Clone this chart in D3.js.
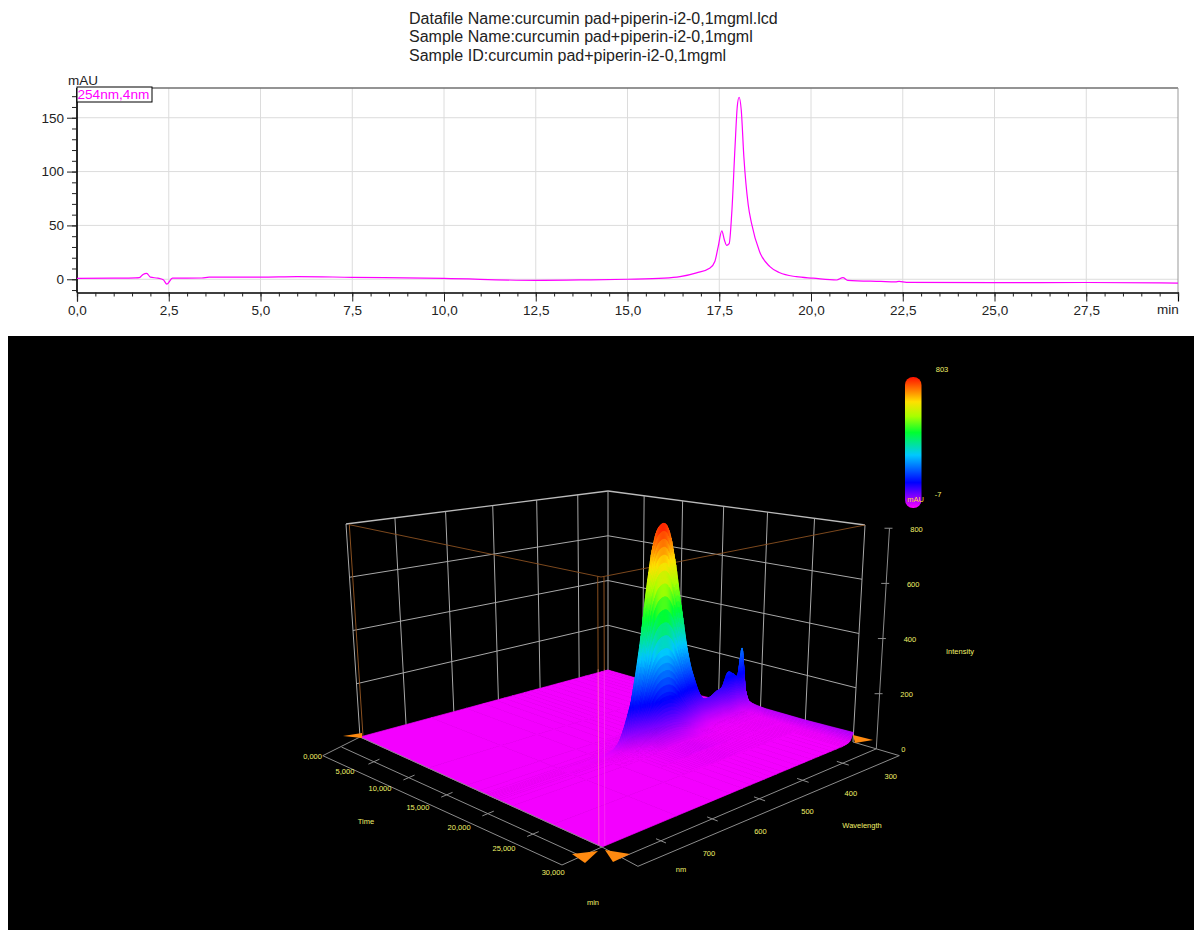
<!DOCTYPE html>
<html><head><meta charset="utf-8">
<script src="https://cdnjs.cloudflare.com/ajax/libs/d3/7.8.5/d3.min.js"></script>
<style>html,body{margin:0;padding:0;background:#fff;overflow:hidden}svg{display:block}text{font-family:"Liberation Sans",Arial,sans-serif}</style>
</head><body><svg id="c" width="1194" height="930"></svg>
<script>
const headerLines=["Datafile Name:curcumin pad+piperin-i2-0,1mgml.lcd","Sample Name:curcumin pad+piperin-i2-0,1mgml","Sample ID:curcumin pad+piperin-i2-0,1mgml"];
const chromTimes=[0,1,1.6,1.7,1.8,1.9,2,2.2,2.35,2.45,2.6,3.4,3.6,5,6,7.5,10,12.5,14,15,16,16.43,16.88,17.25,17.38,17.47,17.57,17.64,17.7,17.77,17.84,17.93,17.99,18.04,18.1,18.17,18.29,18.38,18.6,18.88,19.15,19.6,20.06,20.7,20.87,21,21.9,22.3,22.4,22.6,25,27.5,30];
const chromValues=[0.8,1,1.3,1.5,4.5,5.5,2,1,-0.5,-4.5,1,1.2,2,2,2.5,1.8,0.8,-1,-0.5,0,1,2.4,6,10.5,16.5,30,45,36.5,31.5,33,61,123,160,169,157,114,69,52,25.6,11.7,6,2.4,1,-0.7,1.5,-1,-2,-2.4,-1.9,-2.8,-3.2,-3,-3.6];
const xTicks=[0,2.5,5,7.5,10,12.5,15,17.5,20,22.5,25,27.5];
const yTicks=[0,50,100,150];
const surfTimes=[0,10,15,16.5,17.2,17.5,17.7,17.85,18.05,18.2,18.4,18.7,19,19.5,20.5,25,30];
const surfWaves=[222,231,241,255,269,283,298,317,336,355,373,392,411,425,439,454,468,487,506,534,572,648,790];
const surfRows=[
[0,0,0,0,0,0,0,0,0,0,0,0,0,0,0,0,0,0,0,0,0,0,0],
[2,0,0,0,0,0,0,0,0,0,0,0,0,0,0,0,0,0,0,0,0,0,0],
[10,2,0,0,0,0,0,0,0,0,0,0,0,0,0,0,0,0,0,0,0,0,0],
[25,8,5,4,4,3,2,2,2,4,6,10,14,16,16,15,13,7,3,1,0,0,0],
[30,20,12,13,14,9,9,8,8,14,23,38,54,62,64,61,50,30,14,3,0,0,0],
[35,68,40,43,46,30,30,26,28,49,78,130,184,211,216,205,170,100,46,9,1,0,0],
[35,55,33,35,37,24,24,21,23,40,64,106,150,172,176,167,139,81,37,8,1,0,0],
[40,125,75,80,85,55,55,48,52,90,145,240,340,390,400,380,315,185,85,18,3,0,0],
[60,250,150,160,170,120,110,95,105,180,290,480,680,780,800,760,630,370,170,35,5,0,0],
[55,195,117,125,133,94,86,74,82,140,226,374,530,608,624,593,491,289,133,27,4,0,0],
[48,105,63,67,71,50,46,40,44,76,122,202,286,328,336,319,265,155,71,15,2,0,0],
[40,55,33,35,37,26,24,21,23,40,64,106,150,172,176,167,139,81,37,8,1,0,0],
[36,30,18,19,20,14,13,11,13,22,35,58,82,94,96,91,76,44,20,4,1,0,0],
[33,13,8,8,9,6,6,5,5,9,15,24,34,39,40,38,32,19,9,2,0,0,0],
[30,6,3,3,3,2,2,1,2,3,4,7,10,12,12,11,9,6,3,1,0,0,0],
[30,4,1,0,0,0,0,0,0,0,0,0,0,0,0,0,0,0,0,0,0,0,0],
[35,8,2,0,0,0,0,0,0,0,0,0,0,0,0,0,0,0,0,0,0,0,0]];
const timeAxisTicks=[0,5,10,15,20,25,30];
const waveAxisTicks=[300,400,500,600,700];
const intensityTicks=[0,200,400,600,800];
const colorStops=[-7,60,150,320,460,560,650,720,803];
const colorNames=["#ff00ff","#8a00ff","#0000ff","#00c8ff","#00ff30","#a8ff00","#ffe000","#ff8000","#ff1000"];

const svg=d3.select("#c");
svg.append("rect").attr("width",1194).attr("height",930).attr("fill","#fff");
const hdr=svg.append("g").attr("font-size",16).attr("fill","#222");
headerLines.forEach((s,i)=>hdr.append("text").attr("x",409).attr("y",23.5+i*18.5).text(s));

// ---- chromatogram
const x=d3.scaleLinear().domain([0,30]).range([77,1178]);
const y=d3.scaleLinear().domain([-12.1,177.6]).range([292.3,88]);
const grid=svg.append("g").attr("stroke","#dcdcdc").attr("stroke-width",1);
xTicks.slice(1).forEach(v=>grid.append("line").attr("x1",x(v)).attr("x2",x(v)).attr("y1",88).attr("y2",292));
yTicks.forEach(v=>grid.append("line").attr("x1",77).attr("x2",1178).attr("y1",y(v)).attr("y2",y(v)));
svg.append("line").attr("x1",77).attr("x2",1178).attr("y1",88).attr("y2",88).attr("stroke","#707070").attr("stroke-width",1.6);
svg.append("line").attr("x1",1178).attr("x2",1178).attr("y1",88).attr("y2",292).attr("stroke","#999");
const fmt=v=>d3.format(".1f")(v).replace(".",",");
const ax=svg.append("g").attr("transform","translate(0,292.5)").call(d3.axisBottom(x).tickValues(xTicks).tickFormat(fmt).tickSize(9).tickPadding(4));
const ax2=svg.append("g").attr("transform","translate(0,292.5)").call(d3.axisBottom(x).tickValues(d3.range(0,30.01,0.5)).tickFormat("").tickSize(4));
const ay=svg.append("g").attr("transform","translate(77,0)").call(d3.axisLeft(y).tickValues(yTicks).tickSize(10).tickPadding(3));
const ay2=svg.append("g").attr("transform","translate(77,0)").call(d3.axisLeft(y).tickValues(d3.range(-10,175,10)).tickFormat("").tickSize(5));
[ax,ax2,ay,ay2].forEach(g=>{g.selectAll("path").attr("stroke","#000").attr("stroke-width",1.2);g.selectAll("line").attr("stroke","#222");g.selectAll("text").attr("font-size",13.5).attr("font-family","Liberation Sans").attr("fill","#222");});
ay.select("path").attr("d","M0,88V292.5");ay2.select("path").attr("d","M0,88V292.5");
const line=d3.line().x((d,i)=>x(chromTimes[i])).y(d=>y(d)).curve(d3.curveMonotoneX);
svg.append("path").attr("d",line(chromValues)).attr("fill","none").attr("stroke","#ff00ff").attr("stroke-width",1.2);
svg.append("rect").attr("x",77).attr("y",87).attr("width",75).attr("height",15).attr("fill","#fff").attr("stroke","#000").attr("stroke-width",1);
svg.append("text").attr("x",77.5).attr("y",99).attr("font-size",13.6).attr("fill","#ff00ff").text("254nm,4nm");
svg.append("text").attr("x",68).attr("y",85).attr("font-size",13.5).attr("fill","#222").text("mAU");
svg.append("text").attr("x",1157).attr("y",314).attr("font-size",13.5).attr("fill","#222").text("min");

// ---- 3D panel
svg.append("rect").attr("x",8).attr("y",336).attr("width",1186).attr("height",594).attr("fill","#000");
function homography(p0,p1,p2,p3){
  const dx1=p1[0]-p2[0],dx2=p3[0]-p2[0],sx=p0[0]-p1[0]+p2[0]-p3[0];
  const dy1=p1[1]-p2[1],dy2=p3[1]-p2[1],sy=p0[1]-p1[1]+p2[1]-p3[1];
  const den=dx1*dy2-dx2*dy1,g=(sx*dy2-dx2*sy)/den,h=(dx1*sy-sx*dy1)/den;
  const a=p1[0]-p0[0]+g*p1[0],b=p3[0]-p0[0]+h*p3[0],d=p1[1]-p0[1]+g*p1[1],e=p3[1]-p0[1]+h*p3[1];
  return (u,v)=>{const w=g*u+h*v+1;return [(a*u+b*v+p0[0])/w,(d*u+e*v+p0[1])/w];};
}
const wMin=222,wMax=790;
const floorH=homography([608,670],[853,742],[602,847],[360,737]);
const topH=homography([608,491],[865,525],[601,577],[346,524]);
const uS=d3.scaleLinear().domain([0,30]).range([0,1]);
const vS=d3.scaleLinear().domain([wMin,wMax]).range([0,1]);
const hS=d3.scaleLinear().domain([0,800]).range([0,1]);
const P=(t,w,I=0)=>{const a=floorH(uS(t),vS(w)),b=topH(uS(t),vS(w)),k=hS(I);return [a[0]+(b[0]-a[0])*k,a[1]+(b[1]-a[1])*k];};
const color=d3.scaleLinear().domain(colorStops).range(colorNames).clamp(true);

const g3=svg.append("g");
const seg=(p,q,c,sw)=>g3.append("line").attr("x1",p[0]).attr("y1",p[1]).attr("x2",q[0]).attr("y2",q[1]).attr("stroke",c).attr("stroke-width",sw);
const gridC="#a8a8a8";
// walls
intensityTicks.slice(1).forEach(I=>{const top=I===800;
  seg(P(0,wMax,I),P(0,wMin,I),top?"#bbb":gridC,top?1.3:1);
  seg(P(0,wMin,I),P(30,wMin,I),top?"#bbb":gridC,top?1.3:1);});
[wMin,...waveAxisTicks,wMax].forEach(w=>seg(P(0,w),P(0,w,800),gridC,1));
[5,10,15,20,25,30].forEach(t=>seg(P(t,wMin),P(t,wMin,800),gridC,1));
// cursor frame (behind surface)
const cur="#8a5020";
seg(P(0.5,wMax,800),P(30,wMax,800),cur,0.9);
seg(P(30,wMax,800),P(30,wMin,800),cur,0.9);
seg(P(0.5,wMax,0),P(0.5,wMax,800),cur,1);
seg(P(29.7,wMax,0),P(29.7,wMax,800),cur,1);
seg(P(30,wMax-5,0),P(30,wMax-5,800),cur,1);

// surface
function catmull(a,i,f){const p0=a[Math.max(i-1,0)],p1=a[i],p2=a[Math.min(i+1,a.length-1)],p3=a[Math.min(i+2,a.length-1)];
  const v=0.5*(2*p1+(p2-p0)*f+(2*p0-5*p1+4*p2-p3)*f*f+(3*p1-p0-3*p2+p3)*f*f*f);
  return Math.max(Math.min(v,Math.max(p1,p2)*1.06+1),Math.min(p1,p2)*0.9);}
const gs=g3.append("g");
const cells=[];
for(let i=0;i<surfTimes.length-1;i++){
  for(let j=surfWaves.length-2;j>=0;j--){
    const peak=Math.max(surfRows[i][j],surfRows[i+1][j],surfRows[i][j+1],surfRows[i+1][j+1]);
    const nw=peak>20?8:(peak>1?3:1), nt=peak>20?6:(peak>1?2:1);
    for(let a=0;a<nt;a++){
      for(let b=nw-1;b>=0;b--){
        const val=(ai,bi)=>{const fa=ai/nt,fb=bi/nw;
          const jj=fb>=1?j+1:j,ff=fb>=1?0:fb;
          const r0=catmull(surfRows[i],jj,ff),r1=catmull(surfRows[i+1],jj,ff);return r0+(r1-r0)*fa;};
        const pos=(ai,bi)=>{const t=surfTimes[i]+(surfTimes[i+1]-surfTimes[i])*ai/nt,w=surfWaves[j]+(surfWaves[j+1]-surfWaves[j])*bi/nw;return P(t,w,val(ai,bi));};
        const mean=(val(a,b)+val(a+1,b)+val(a,b+1)+val(a+1,b+1))/4;
        cells.push({pts:[pos(a,b),pos(a+1,b),pos(a+1,b+1),pos(a,b+1)],c:color(mean)});
      }
    }
  }
}
gs.selectAll("polygon").data(cells).join("polygon")
  .attr("points",d=>d.pts.map(p=>p[0].toFixed(2)+","+p[1].toFixed(2)).join(" "))
  .attr("fill",d=>d.c).attr("stroke",d=>d.c).attr("stroke-width",0.7);

// front cursor verticals over surface
seg(P(29.7,wMax,0),P(29.7,wMax,524),"#ffa0a0",0.8).attr("opacity",0.7);
seg(P(30,wMax-5,0),P(30,wMax-5,524),"#ff9ad0",0.6).attr("opacity",0.45);

// floor axes (the axis plate sits slightly below the floor at the far end)
const axC="#8c8c8c";
const A=(t,w)=>{const p=P(t,w),v=vS(w),u=uS(t);return [p[0]+3,p[1]+(v>1?(v-1)*60*(1-u):0)];};
const wIn=830,wOut=864,tIn=32.3,tOut=34.5;
const waveAxis=d3.scaleLinear().domain([300,700]).range([313,716]);
const B=(t,w)=>{const v=vS(w),p=P(30+(t-30)*(1-0.25*v),w);return [p[0],p[1]+3*v];};
seg(A(0,wIn),A(30,wIn),axC,1);seg(A(0,wOut),A(30,wOut),axC,1);
seg(P(0,wMax),A(0,wOut),axC,1);seg(P(30,wMax),A(30,wOut),axC,1);
seg(P(30,wMax),P(0,wMax),axC,1);
seg(B(tIn,wMin),B(tIn,wMax),axC,1);seg(B(tOut,wMin),B(tOut,wMax),axC,1);
seg(P(30,wMin),B(tOut,wMin),axC,1);seg(P(30,wMax),B(tOut,wMax),axC,1);
timeAxisTicks.slice(1,-1).forEach(t=>seg(A(t,wIn-10),A(t,wIn+10),axC,1));
waveAxisTicks.forEach(w=>seg(B(tIn-0.6,waveAxis(w)),B(tIn+0.6,waveAxis(w)),axC,1));
// intensity axis
seg(P(tIn,wMin,0),P(tIn,wMin,800),axC,1);
intensityTicks.slice(1).forEach(I=>{const p=P(tIn,wMin,I);seg([p[0]-5,p[1]],[p[0]+3,p[1]],axC,1);});

// orange markers
const mark=(base,offs)=>g3.append("polygon").attr("points",offs.map(o=>(base[0]+o[0])+","+(base[1]+o[1])).join(" ")).attr("fill","#ff8a10");
mark(P(0,wMax),[[-17,-1],[2,-4],[2,1]]);
mark(P(30,wMax),[[-30,7],[-4,4],[-17,16]]);
mark(P(30,wMax),[[3,3],[28,7],[11,15]]);
mark(P(30,wMin),[[0,-7],[20,-2],[2,1]]);

// tiny yellow labels
const ly=g3.append("g").attr("fill","#f0f06a").attr("font-size",7.5).attr("text-anchor","middle");
const lab=(p,s)=>ly.append("text").attr("x",p[0]).attr("y",p[1]+2.5).text(s);
timeAxisTicks.forEach(t=>{const p=A(t,wIn);lab([p[0]-29,p[1]+9+7*uS(t)],d3.format(".3f")(t).replace(".",","));});
waveAxisTicks.forEach(w=>{const p=B(tIn,waveAxis(w));lab([p[0]+48,p[1]+13],w);});
intensityTicks.forEach(I=>{const p=P(tIn,wMin,I);lab([p[0]+27,p[1]+1],I);});
lab([366,821],"Time");lab([593,902],"min");lab([681,869],"nm");lab([862,825],"Wavelength");lab([960,651],"Intensity");

// colour bar
const defs=svg.append("defs");
const grad=defs.append("linearGradient").attr("id","cb").attr("x1",0).attr("y1",1).attr("x2",0).attr("y2",0);
const cbS=d3.scaleLinear().domain([-7,803]).range([0,1]);
colorStops.forEach((v,i)=>grad.append("stop").attr("offset",cbS(v)).attr("stop-color",colorNames[i]));
g3.append("rect").attr("x",905).attr("y",377).attr("width",16.5).attr("height",131).attr("rx",8).attr("fill","url(#cb)");
lab([942,369],"803");lab([938,494],"-7");
g3.append("text").attr("x",915.5).attr("y",502).attr("font-size",7.5).attr("text-anchor","middle").attr("fill","#ffd040").text("mAU");
</script></body></html>
